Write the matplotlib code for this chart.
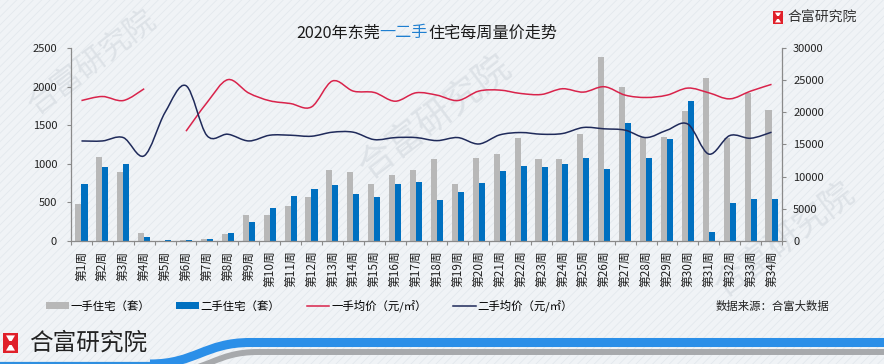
import numpy as np
import matplotlib
matplotlib.use('Agg')
import matplotlib.pyplot as plt
from matplotlib.patches import Rectangle, Polygon, PathPatch, Patch
from matplotlib.path import Path
from matplotlib.lines import Line2D

plt.rcParams['font.family'] = ['Noto Sans CJK SC', 'DejaVu Sans']
plt.rcParams['hatch.linewidth'] = 0.6

# ---------------- data ----------------
weeks = [f'第{i}周' for i in range(1, 35)]
new_units = [484, 1091, 890, 105, 3, 9, 25, 92, 336, 340, 458, 576, 916, 890, 733,
             851, 916, 1060, 733, 1073, 1126, 1335, 1060, 1060, 1387, 2382, 1990,
             1344, 1348, 1688, 2107, 1331, 1911, 1702]
used_units = [733, 955, 995, 52, 15, 13, 30, 105, 249, 432, 589, 668, 720, 615, 576,
              733, 759, 537, 641, 746, 903, 969, 955, 995, 1073, 929, 1531, 1073,
              1322, 1819, 118, 497, 550, 550]
new_price = [21834, 22462, 21834, 23667, np.nan, 17069, 21500, 25080, 23000, 21800,
             21363, 20839, 24871, 23300, 23090, 21729, 23038, 22672, 21834, 23300,
             23457, 22934, 22777, 23667, 23143, 23981, 22672, 22306, 22672, 23771,
             23038, 22096, 23300, 24347]
used_price = [15551, 15551, 16075, 13247, 20000, 24138, 16389, 16598, 15551, 16441,
              16441, 16284, 16912, 16912, 15760, 16075, 16075, 15603, 16075, 15080,
              16493, 16860, 16598, 16703, 17645, 17436, 17226, 16075, 17226, 18169,
              13509, 16389, 15970, 16912]
labels = ['一手住宅（套）', '二手住宅（套）', '一手均价（元/㎡）', '二手均价（元/㎡）']
title_parts = ['2020年东莞', '一二手', '住宅每周量价走势']

C_GRAY = '#b8b8b8'
C_BLUE = '#0070c0'
C_RED = '#d9234b'
C_NAVY = '#1f2a5a'
C_AX = '#8a8a8a'

W, H = 884, 364
fig = plt.figure(figsize=(W / 100, H / 100), dpi=100)
fig.patch.set_facecolor('#f0f3f6')

# background with fine diagonal texture
bg = fig.add_axes([0, 0, 1, 1], zorder=-10)
bg.set_xlim(0, W); bg.set_ylim(H, 0); bg.axis('off')
bg.add_patch(Rectangle((0, 0), W, H, facecolor='#f0f3f6', edgecolor='#e3e8ed',
                       hatch='////', lw=0))
# watermarks
for (wx, wy, fs) in [(92, 62, 22), (435, 118, 26), (785, 240, 24)]:
    bg.text(wx, wy, '合富研究院', fontsize=fs, color='#dde2e7', rotation=37,
            ha='center', va='center')


def smooth_path(xs, ys):
    """Catmull-Rom style bezier path through the points, breaking at NaN."""
    verts, codes = [], []
    xs = np.asarray(xs, float); ys = np.asarray(ys, float)
    segs, cur = [], []
    for xi, yi in zip(xs, ys):
        if np.isnan(yi):
            if cur:
                segs.append(cur); cur = []
        else:
            cur.append((xi, yi))
    if cur:
        segs.append(cur)
    for s in segs:
        p = np.array(s)
        n = len(p)
        verts.append(p[0]); codes.append(Path.MOVETO)
        for i in range(n - 1):
            p0 = p[i - 1] if i > 0 else p[i]
            p1, p2 = p[i], p[i + 1]
            p3 = p[i + 2] if i + 2 < n else p[i + 1]
            c1 = p1 + (p2 - p0) / 6.0
            c2 = p2 - (p3 - p1) / 6.0
            verts += [c1, c2, p2]; codes += [Path.CURVE4] * 3
    return Path(verts, codes)


# ---------------- main axes ----------------
ax = fig.add_axes([71 / W, 123 / H, 711 / W, 193 / H])
ax.set_facecolor('none')
x = np.arange(len(weeks))
bw = 0.29
ax.bar(x - bw / 2, new_units, bw, color=C_GRAY, zorder=2)
ax.bar(x + bw / 2, used_units, bw, color=C_BLUE, zorder=2)
ax.set_xlim(-0.5, len(weeks) - 0.5)
ax.set_ylim(0, 2500)
ax.set_yticks(np.arange(0, 2501, 500))
ax.set_xticks(x)
ax.set_xticklabels(weeks, rotation=90, fontsize=8.5, color='#222222')
ax.set_xticks(np.arange(-0.5, len(weeks), 1), minor=True)
ax.tick_params(axis='x', which='major', length=0, pad=7)
ax.tick_params(axis='x', which='minor', length=3, color=C_AX, width=0.8)
ax.tick_params(axis='y', length=3, color=C_AX, width=0.8, labelsize=8, pad=7,
               labelcolor='#222222')
for sp in ['top', 'right']:
    ax.spines[sp].set_visible(False)
for sp in ['left', 'bottom']:
    ax.spines[sp].set_color(C_AX); ax.spines[sp].set_linewidth(0.9)

ax2 = ax.twinx()
ax2.set_ylim(0, 30000)
ax2.set_yticks(np.arange(0, 30001, 5000))
ax2.tick_params(axis='y', length=3, color=C_AX, width=0.8, labelsize=8, pad=5,
                labelcolor='#222222')
for sp in ['top', 'left', 'bottom']:
    ax2.spines[sp].set_visible(False)
ax2.spines['right'].set_color(C_AX); ax2.spines['right'].set_linewidth(0.9)
ax2.add_patch(PathPatch(smooth_path(x, new_price), fill=False, edgecolor=C_RED,
                        lw=1.1, zorder=3))
ax2.add_patch(PathPatch(smooth_path(x, used_price), fill=False, edgecolor=C_NAVY,
                        lw=1.1, zorder=3))

# ---------------- legend ----------------
handles = [Patch(facecolor=C_GRAY), Patch(facecolor=C_BLUE),
           Line2D([], [], color=C_RED, lw=1.1), Line2D([], [], color=C_NAVY, lw=1.1)]
fig.legend(handles, labels, ncol=4, frameon=False, fontsize=8.2,
           loc='center left', bbox_to_anchor=(46 / W, 1 - 306 / H),
           handlelength=2.0, handleheight=0.55, handletextpad=0.15,
           columnspacing=2.3, borderaxespad=0, borderpad=0)
fig.text(829 / W, 1 - 306 / H, '数据来源：合富大数据', ha='right', va='center',
         fontsize=8.2, color='#222222')

# ---------------- title (multi-colour) ----------------
renderer = fig.canvas.get_renderer()
colors = ['#1a1a1a', '#1f7fd0', '#1a1a1a']
tsize = 11.6
tmp = [fig.text(0, 0, t, fontsize=tsize) for t in title_parts]
widths = [t.get_window_extent(renderer).width for t in tmp]
for t in tmp:
    t.remove()
cx = 426.5 - sum(widths) / 2
for t, c, wdt in zip(title_parts, colors, widths):
    fig.text(cx / W, 1 - 33 / H, t, fontsize=tsize, color=c, ha='left', va='center')
    cx += wdt

# ---------------- overlay decorations (logos, banner) ----------------
ov = fig.add_axes([0, 0, 1, 1], zorder=10)
ov.set_xlim(0, W); ov.set_ylim(H, 0); ov.axis('off')


def icon(x0, y0, w, h):
    ov.add_patch(Rectangle((x0, y0), w, h, facecolor='#e0202a', edgecolor='none'))
    m = w * 0.2
    ov.add_patch(Polygon([(x0 + m, y0 + h * 0.12), (x0 + w - m, y0 + h * 0.12),
                          (x0 + w / 2, y0 + h / 2)], closed=True, facecolor='white'))
    ov.add_patch(Polygon([(x0 + m, y0 + h * 0.88), (x0 + w - m, y0 + h * 0.88),
                          (x0 + w / 2, y0 + h / 2)], closed=True, facecolor='white'))
    ov.add_patch(Rectangle((x0 + w / 2 - w * 0.12, y0 + h / 2 - h * 0.08), w * 0.24,
                           h * 0.16, facecolor='#e0202a', edgecolor='none'))


icon(773, 11, 10, 13)
ov.text(787, 17.5, '合富研究院', fontsize=10, color='#333333', ha='left', va='center')
icon(3, 333, 15, 20)
ov.text(29, 343, '合富研究院', fontsize=17, color='#222222', ha='left', va='center')

# banner stripes
ov.add_patch(PathPatch(Path([(0, 362.5), (165, 362.5)]), fill=False,
                       edgecolor='#2f8fe0', lw=1.6))
ov.add_patch(PathPatch(Path([(150, 364), (195, 364), (205, 342.5), (250, 342.5),
                             (W + 5, 342.5)],
                            [Path.MOVETO, Path.CURVE4, Path.CURVE4, Path.CURVE4,
                             Path.LINETO]),
                       fill=False, edgecolor='#2b8fe8', lw=6.5, capstyle='butt'))
ov.add_patch(PathPatch(Path([(165, 372), (208, 372), (215, 352), (258, 352),
                             (W + 5, 352)],
                            [Path.MOVETO, Path.CURVE4, Path.CURVE4, Path.CURVE4,
                             Path.LINETO]),
                       fill=False, edgecolor='#a7a9ac', lw=4.3, capstyle='butt'))

fig.savefig('out.png', dpi=100, facecolor=fig.get_facecolor())
